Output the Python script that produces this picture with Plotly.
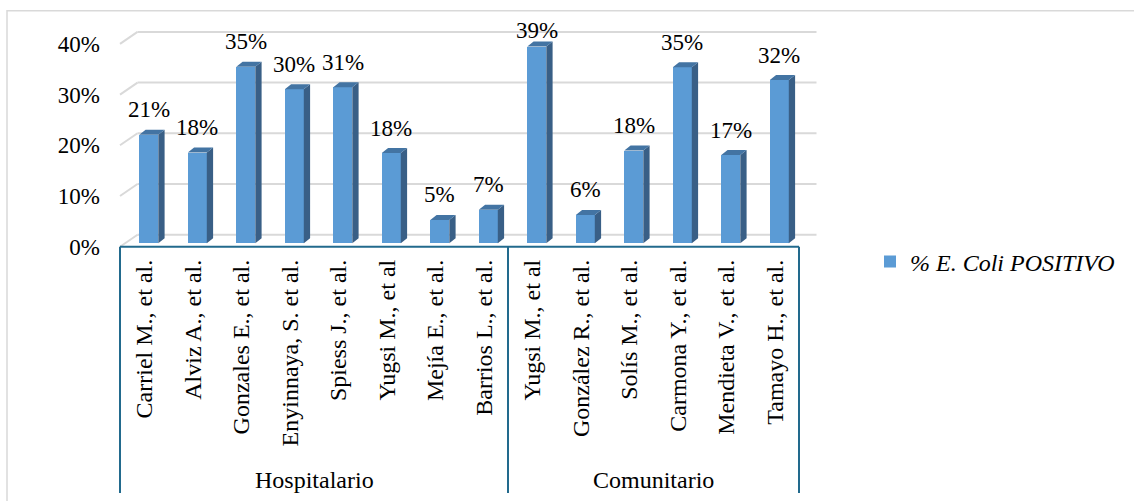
import plotly.graph_objects as go

# ---------------- data ----------------
CATEGORIES = [
    "Carriel M., et al.", "Alviz A., et al.", "Gonzales E., et al.",
    "Enyinnaya, S. et al.", "Spiess J., et al.", "Yugsi M., et al",
    "Mejía E., et al.", "Barrios L., et al.",
    "Yugsi M., et al", "González R., et al.", "Solís M., et al.",
    "Carmona Y., et al.", "Mendieta V., et al.", "Tamayo H., et al.",
]
VALUES = [0.214, 0.179, 0.348, 0.304, 0.308, 0.178, 0.046, 0.066,
          0.388, 0.056, 0.183, 0.347, 0.174, 0.322]
GROUPS = ["Hospitalario", "Comunitario"]
GROUP_SIZES = [8, 6]
Y_TICKS = [0, 0.1, 0.2, 0.3, 0.4]
Y_TICK_LABELS = ["0%", "10%", "20%", "30%", "40%"]
SERIES_NAME = "% E. Coli POSITIVO"

# ---------------- layout constants (pixels) ----------------
W, H = 1134, 501
PLOT_L, PLOT_R, PLOT_T, PLOT_B = 117, 830, 20, 250
X_START_PX = 120.0      # pixel of x = -0.5 (front plane)
X_UNIT = 48.5           # px per category
Y_ZERO_PX = 246.7       # pixel of y = 0 (front plane)
Y_UNIT = 507.0          # px per 1.0 (100 %)

def px_x(p):  # pixel -> paper
    return (p - PLOT_L) / (PLOT_R - PLOT_L)

def px_y(p):
    return (PLOT_B - p) / (PLOT_B - PLOT_T)

x_range = [-0.5 - (X_START_PX - PLOT_L) / X_UNIT, -0.5 + (PLOT_R - X_START_PX) / X_UNIT]
y_range = [-(PLOT_B - Y_ZERO_PX) / Y_UNIT, (Y_ZERO_PX - PLOT_T) / Y_UNIT]

# 3D geometry
BACK_DX = 17.5 / X_UNIT
BACK_DY = 12.0 / Y_UNIT
BAR_BASE = 3.4 / Y_UNIT
BAR_OFFSET = -4.95 / X_UNIT
BAR_W = 19.0 / X_UNIT
SIDE_DX = 6.3 / X_UNIT
SIDE_DY = 5.0 / Y_UNIT
LABEL_GAP = 25.0 / Y_UNIT
LABEL_MAX = (Y_ZERO_PX - 30.5) / Y_UNIT

FRONT = "#5B9BD5"
TOP = "#4374A3"
SIDE = "#395F86"
GRID = "#D9D9D9"
BOX = "#226A8D"
FONT = "'Times New Roman', 'Liberation Serif', Tinos, serif"
FS = 24       # text labels
FS_NUM = 23   # numeric labels

xs = list(range(len(CATEGORIES)))

fig = go.Figure()

# back wall gridlines + left wall depth lines
for v in Y_TICKS:
    fig.add_shape(type="line", xref="x", yref="y",
                  x0=-0.5 + BACK_DX, x1=len(CATEGORIES) - 0.5 + BACK_DX,
                  y0=v + BACK_DY, y1=v + BACK_DY,
                  line=dict(color=GRID, width=2), layer="below")
    fig.add_shape(type="line", xref="x", yref="y",
                  x0=-0.5, x1=-0.5 + BACK_DX, y0=v, y1=v + BACK_DY,
                  line=dict(color=GRID, width=2), layer="below")

# front faces
fig.add_trace(go.Bar(
    x=xs, y=VALUES, base=BAR_BASE, offset=BAR_OFFSET, width=BAR_W,
    marker=dict(color=FRONT, line=dict(width=0)),
    name=SERIES_NAME, showlegend=True, hoverinfo="skip",
))

# side faces & top faces
sx, sy, tx, ty = [], [], [], []
for x, v in zip(xs, VALUES):
    l = x + BAR_OFFSET
    r = l + BAR_W
    b = BAR_BASE
    t = BAR_BASE + v
    sx += [r, r + SIDE_DX, r + SIDE_DX, r, r, None]
    sy += [b, b + SIDE_DY, t + SIDE_DY, t, b, None]
    tx += [l, r, r + SIDE_DX, l + SIDE_DX, l, None]
    ty += [t, t, t + SIDE_DY, t + SIDE_DY, t, None]

fig.add_trace(go.Scatter(x=sx, y=sy, mode="lines", fill="toself", fillcolor=SIDE,
                         line=dict(width=0, color=SIDE), showlegend=False, hoverinfo="skip"))
fig.add_trace(go.Scatter(x=tx, y=ty, mode="lines", fill="toself", fillcolor=TOP,
                         line=dict(width=0, color=TOP), showlegend=False, hoverinfo="skip"))

# data labels
for x, v in zip(xs, VALUES):
    fig.add_annotation(x=x + BAR_OFFSET + BAR_W / 2, y=min(BAR_BASE + v + LABEL_GAP, LABEL_MAX),
                       xref="x", yref="y", text=f"{round(v * 100)}%", showarrow=False,
                       xanchor="center", yanchor="middle",
                       font=dict(family=FONT, size=FS_NUM, color="#000000"))

# category group box
box_top = px_y(Y_ZERO_PX)
box_bottom = px_y(493)
fig.add_shape(type="line", xref="x", yref="y", x0=-0.5, x1=len(CATEGORIES) - 0.5,
              y0=0, y1=0, line=dict(color=BOX, width=2))
edges = [-0.5]
for n in GROUP_SIZES:
    edges.append(edges[-1] + n)
for e in edges:
    fig.add_shape(type="line", xref="x", yref="paper", x0=e, x1=e,
                  y0=box_top, y1=box_bottom, line=dict(color=BOX, width=2))
for g, a, b in zip(GROUPS, edges[:-1], edges[1:]):
    fig.add_annotation(x=(a + b) / 2, y=px_y(480), xref="x", yref="paper", text=g,
                       showarrow=False, xanchor="center", yanchor="middle",
                       font=dict(family=FONT, size=FS, color="#000000"))

# chart border
fig.add_shape(type="rect", xref="paper", yref="paper",
              x0=px_x(7), x1=px_x(1140), y0=px_y(10.7), y1=px_y(515),
              line=dict(color=GRID, width=1.5), layer="below")

fig.update_layout(
    width=W, height=H,
    margin=dict(l=PLOT_L, r=W - PLOT_R, t=PLOT_T, b=H - PLOT_B, pad=0),
    paper_bgcolor="white", plot_bgcolor="rgba(0,0,0,0)",
    font=dict(family=FONT, size=FS, color="#000000"),
    showlegend=True,
    legend=dict(x=px_x(870), y=px_y(262), xanchor="left", yanchor="middle",
                font=dict(family=FONT, size=FS, color="#000000", style="italic"),
                bgcolor="rgba(0,0,0,0)"),
    bargap=0,
)
fig.update_xaxes(range=x_range, tickmode="array", tickvals=xs, ticktext=CATEGORIES,
                 tickangle=-90, showgrid=False, zeroline=False, showline=False,
                 ticks="", ticklabelstandoff=4,
                 tickfont=dict(family=FONT, size=FS, color="#000000"))
fig.update_yaxes(range=y_range, tickmode="array", tickvals=Y_TICKS, ticktext=Y_TICK_LABELS,
                 showgrid=False, zeroline=False, showline=False, ticks="",
                 ticklabelstandoff=16,
                 tickfont=dict(family=FONT, size=FS_NUM, color="#000000"))

fig.write_html("out.html")
